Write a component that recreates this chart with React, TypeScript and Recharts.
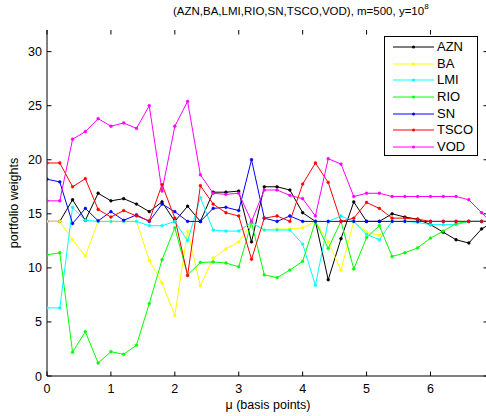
import React from 'react';
import { LineChart, Line, XAxis, YAxis } from 'recharts';

// mu in basis points
const MU = [0, 0.2, 0.4, 0.6, 0.8, 1.0, 1.2, 1.4, 1.6, 1.8, 2.0, 2.2, 2.4, 2.6, 2.8, 3.0, 3.2, 3.4,
  3.6, 3.8, 4.0, 4.2, 4.4, 4.6, 4.8, 5.0, 5.2, 5.4, 5.6, 5.8, 6.0, 6.2, 6.4, 6.6, 6.8, 7.0];

const AZN = [14.3, 14.3, 16.3, 14.4, 16.9, 16.2, 16.4, 15.9, 15.2, 16.1, 14.3, 15.7, 14.3, 17.0, 17.0, 17.1, 12.4, 17.5,
  17.5, 17.2, 15.1, 14.3, 8.9, 12.7, 16.1, 14.3, 14.3, 15.0, 14.7, 14.5, 14.0, 13.3, 12.6, 12.3, 13.6, 14.3];
const BA = [14.3, 14.3, 12.6, 11.1, 14.3, 14.3, 14.3, 14.3, 10.7, 8.6, 5.6, 13.4, 8.35, 10.9, 11.75, 12.4, 14.2, 13.5,
  13.6, 13.6, 13.7, 14.3, 12.4, 9.8, 14.3, 13.3, 13.0, 14.3, 14.3, 14.3, 14.3, 14.3, 14.3, 14.3, 14.3, 14.3];
const LMI = [6.3, 6.3, 15.6, 14.4, 14.3, 14.3, 14.3, 14.3, 13.9, 13.9, 14.3, 12.5, 16.5, 13.5, 13.4, 13.4, 14.2, 13.5,
  13.5, 13.5, 12.2, 8.4, 14.3, 14.8, 14.3, 13.1, 12.6, 14.3, 14.3, 14.2, 14.0, 14.0, 14.0, 14.3, 14.3, 14.3];
const RIO = [11.2, 11.4, 2.2, 4.1, 1.2, 2.25, 2.0, 2.85, 6.7, 10.75, 13.7, 9.35, 10.5, 10.55, 10.45, 10.1, 14.2, 9.35,
  9.1, 9.8, 10.6, 14.3, 11.8, 14.3, 9.9, 12.8, 13.9, 11.05, 11.4, 11.85, 12.75, 13.4, 14.1, 14.3, 14.3, 14.3];
const SN = [18.2, 17.95, 14.1, 15.5, 14.35, 15.2, 14.4, 14.9, 14.3, 15.9, 15.2, 14.3, 14.3, 15.5, 15.6, 15.3, 20.0, 14.6,
  14.3, 14.8, 14.3, 14.3, 14.3, 14.3, 14.3, 14.3, 14.3, 14.3, 14.3, 14.3, 14.3, 14.3, 14.3, 14.3, 14.3, 14.3];
const TSCO = [19.7, 19.7, 17.5, 18.25, 15.4, 14.7, 15.3, 14.8, 14.35, 17.7, 14.6, 9.3, 17.6, 15.9, 15.1, 14.8, 10.8, 14.6,
  14.8, 14.3, 17.75, 19.7, 17.9, 14.3, 14.6, 16.05, 15.5, 14.6, 14.6, 14.5, 14.3, 14.3, 14.3, 14.3, 14.3, 14.3];
const VOD = [16.2, 16.2, 21.9, 22.6, 23.8, 23.1, 23.4, 22.9, 25.0, 17.1, 23.1, 25.4, 18.6, 16.9, 16.8, 16.9, 14.3, 17.2,
  17.2, 16.7, 16.4, 14.8, 20.1, 19.6, 16.6, 16.9, 16.9, 16.6, 16.6, 16.6, 16.6, 16.6, 16.6, 16.3, 15.1, 13.9];

const X_TICKS = [0, 1, 2, 3, 4, 5, 6];
const Y_TICKS = [0, 5, 10, 15, 20, 25, 30];

const SERIES = [
  { name: 'AZN', color: '#000000', values: AZN },
  { name: 'BA', color: '#ffff00', values: BA },
  { name: 'LMI', color: '#00ffff', values: LMI },
  { name: 'RIO', color: '#00ff00', values: RIO },
  { name: 'SN', color: '#0000ff', values: SN },
  { name: 'TSCO', color: '#ff0000', values: TSCO },
  { name: 'VOD', color: '#ff00ff', values: VOD },
];

const data = MU.map((mu, i) => {
  const row: Record<string, number> = { mu };
  SERIES.forEach((s) => { row[s.name] = s.values[i]; });
  return row;
});

const FONT = '"Liberation Sans", Arial, Helvetica, sans-serif';
const W = 500;
const H = 416;
const LEFT = 47;
const RIGHT = 488;
const TOP = 30;
const BOTTOM = 376;
const TICK = 4.5;

const XTick = (props: any) => {
  const { x, payload } = props;
  return (
    <g>
      <line x1={x} x2={x} y1={BOTTOM} y2={BOTTOM - TICK} stroke="#000" />
      <line x1={x} x2={x} y1={TOP} y2={TOP + TICK} stroke="#000" />
      <text x={x} y={BOTTOM + 17} textAnchor="middle" fontSize={12.5} fontFamily={FONT} fill="#000">
        {payload.value}
      </text>
    </g>
  );
};

const YTick = (props: any) => {
  const { y, payload } = props;
  return (
    <g>
      <line x1={LEFT} x2={LEFT + TICK} y1={y} y2={y} stroke="#000" />
      <line x1={RIGHT} x2={RIGHT - TICK} y1={y} y2={y} stroke="#000" />
      <text x={LEFT - 5} y={y + 4.5} textAnchor="end" fontSize={12.5} fontFamily={FONT} fill="#000">
        {payload.value}
      </text>
    </g>
  );
};

const LegendBox = () => (
  <div
    style={{
      position: 'absolute', left: 384, top: 36, width: 94, height: 120,
      border: '1px solid #000', background: '#fff', boxSizing: 'border-box',
      fontFamily: FONT, fontSize: 13, paddingTop: 2,
    }}
  >
    {SERIES.map((s) => (
      <div key={s.name} style={{ display: 'flex', alignItems: 'center', height: 16.6 }}>
        <svg width={52} height={10} style={{ display: 'block' }}>
          <line x1={8} x2={49} y1={5} y2={5} stroke={s.color} strokeWidth={1} />
          <circle cx={28.5} cy={5} r={1.5} fill={s.color} />
        </svg>
        <span style={{ lineHeight: '14px' }}>{s.name}</span>
      </div>
    ))}
  </div>
);

export default function App() {
  return (
    <div style={{ position: 'fixed', left: 0, top: 0, width: 486, height: 416, overflow: 'hidden', background: '#fff' }}>
      <LineChart width={W} height={H} data={data} margin={{ top: TOP, right: W - RIGHT, bottom: 10, left: 0 }}>
        <XAxis
          dataKey="mu" type="number" domain={[0, 6.9]} allowDataOverflow ticks={X_TICKS}
          tickLine={false} axisLine={{ stroke: '#000' }} height={30} tick={<XTick />} interval={0}
        />
        <XAxis xAxisId="top" orientation="top" dataKey="mu" type="number" domain={[0, 6.9]} height={0}
          tick={false} tickLine={false} axisLine={{ stroke: '#000' }} />
        <YAxis
          type="number" domain={[0, 32]} allowDataOverflow ticks={Y_TICKS} width={LEFT}
          tickLine={false} axisLine={{ stroke: '#000' }} tick={<YTick />} interval={0}
        />
        <YAxis yAxisId="right" orientation="right" type="number" domain={[0, 32]} width={0}
          tick={false} tickLine={false} axisLine={{ stroke: '#000' }} />
        {SERIES.map((s) => (
          <Line
            key={s.name}
            dataKey={s.name}
            stroke={s.color}
            strokeWidth={1}
            dot={{ r: 1.4, fill: s.color, stroke: s.color, strokeWidth: 0.5 }}
            isAnimationActive={false}
          />
        ))}
      </LineChart>
      <div style={{ position: 'absolute', left: 173, top: 5, fontFamily: FONT, fontSize: 11.5, whiteSpace: 'nowrap' }}>
        (AZN,BA,LMI,RIO,SN,TSCO,VOD), m=500, y=10<sup style={{ fontSize: 8, verticalAlign: 'top', position: 'relative', top: -3 }}>8</sup>
      </div>
      <div style={{ position: 'absolute', left: 268, top: 398, transform: 'translateX(-50%)', fontFamily: FONT, fontSize: 12.5, whiteSpace: 'nowrap' }}>
        μ (basis points)
      </div>
      <div style={{ position: 'absolute', left: 14, top: 203, transform: 'translate(-50%, -50%) rotate(-90deg)', fontFamily: FONT, fontSize: 12.5, whiteSpace: 'nowrap' }}>
        portfolio weights
      </div>
      <LegendBox />
    </div>
  );
}
